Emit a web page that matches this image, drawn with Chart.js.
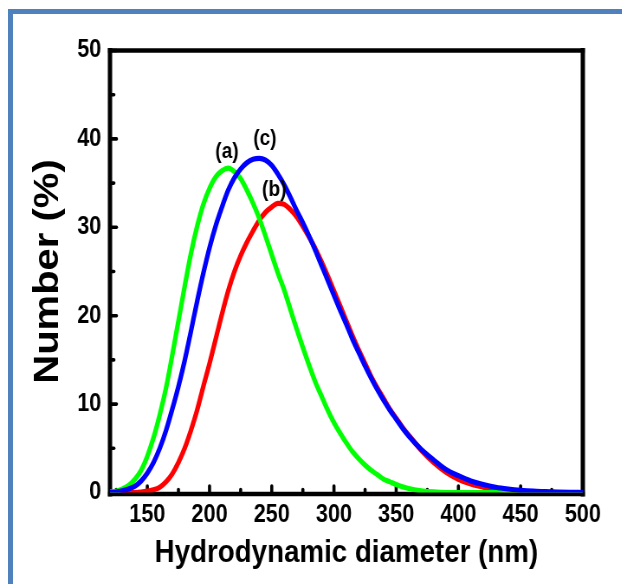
<!DOCTYPE html>
<html>
<head>
<meta charset="utf-8">
<title>Hydrodynamic diameter distribution</title>
<script src="https://cdn.jsdelivr.net/npm/chart.js@4.4.0/dist/chart.umd.min.js"></script>
<style>
    html, body { margin: 0; padding: 0; background: #fff; }
    #page { position: relative; width: 622px; height: 584px; overflow: hidden; background: #fff; }
    #frame {
        position: absolute; left: 8px; top: 9px; right: -10px; bottom: -10px;
        border-left: 5px solid #4f81bd; border-top: 5px solid #4f81bd;
    }
    /* the source figure is squeezed horizontally, so the canvas is too */
    #plot { position: absolute; left: 0; top: 0; width: 718px; height: 584px; transform: scaleX(0.866); transform-origin: 0 0; }
</style>
</head>
<body>
<div id="page">
    <div id="frame"></div>
    <div id="plot"><canvas id="dlsChart" width="718" height="584"></canvas></div>
</div>
<script>
// Hydrodynamic diameter (nm)
const diameters = [
    120, 125, 130, 135, 140, 145, 150, 155, 160, 165, 170, 175, 180, 185, 190, 195,
    200, 205, 210, 215, 220, 225, 230, 235, 240, 245, 250, 255, 260, 265, 270, 275,
    280, 285, 290, 295, 300, 305, 310, 315, 320, 325, 330, 335, 340, 345, 350, 355,
    360, 370, 380, 390, 400, 410, 420, 430, 440, 450, 460, 470, 480, 490, 500
];

// Number (%) for each sample
const numberA = [
    0.05, 0.15, 0.4, 0.8, 1.5, 2.5, 4.1, 6.2, 8.8, 11.8, 15.5, 19.4, 23.3, 27.0, 30.1, 32.6,
    34.4, 35.7, 36.4, 36.7, 36.3, 35.5, 34.2, 32.7, 31.0, 29.0, 26.9, 24.8, 22.9, 20.7, 18.5, 16.4,
    14.4, 12.5, 10.9, 9.3, 7.9, 6.7, 5.6, 4.6, 3.8, 3.1, 2.5, 2.0, 1.5, 1.2, 0.9, 0.65,
    0.45, 0.2, 0.06, 0, 0, 0, 0, 0, 0, 0, 0, 0, 0, 0, 0
];
const numberB = [
    0, 0, 0, 0, 0, 0.05, 0.15, 0.3, 0.6, 1.2, 2.1, 3.4, 5.0, 7.0, 9.3, 12.0,
    14.6, 17.4, 20.2, 22.8, 25.0, 26.8, 28.3, 29.6, 30.8, 31.7, 32.3, 32.7, 32.6, 32.0, 31.2, 30.1,
    28.9, 27.6, 26.1, 24.5, 22.8, 21.1, 19.4, 17.7, 16.1, 14.6, 13.1, 11.8, 10.6, 9.4, 8.4, 7.4,
    6.5, 4.8, 3.4, 2.3, 1.5, 0.95, 0.6, 0.35, 0.2, 0.1, 0.05, 0.02, 0, 0, 0
];
const numberC = [
    0, 0.05, 0.2, 0.4, 0.7, 1.3, 2.2, 3.4, 5.0, 7.0, 9.4, 12.0, 14.9, 18.2, 21.6, 24.8,
    27.7, 30.2, 32.3, 34.2, 35.6, 36.6, 37.3, 37.7, 37.8, 37.6, 37.0, 36.0, 34.8, 33.4, 31.9, 30.5,
    29.0, 27.4, 25.7, 24.0, 22.3, 20.6, 19.0, 17.3, 15.8, 14.3, 12.9, 11.6, 10.4, 9.3, 8.3, 7.3,
    6.4, 4.9, 3.7, 2.6, 1.9, 1.3, 0.9, 0.6, 0.4, 0.25, 0.15, 0.1, 0.05, 0.02, 0
];

const xTicks = [150, 200, 250, 300, 350, 400, 450, 500];
const xMinorTicks = [125, 175, 225, 275, 325, 375, 425, 475];
const yTicks = [0, 10, 20, 30, 40, 50];
const yMinorTicks = [5, 15, 25, 35, 45];

// curve labels, anchored in data units
const peakLabels = ['(a)', '(b)', '(c)'];
const peakLabelX = [214, 252, 244.5];
const peakLabelY = [38.5, 34.2, 40];

const FONT = 'Arial, "Liberation Sans", sans-serif';

function toPoints(values) {
    return diameters.map((d, i) => ({ x: d, y: values[i] }));
}

// black box with inward ticks, drawn under the curves
const frameAndTicks = {
    id: 'frameAndTicks',
    beforeDatasetsDraw(chart) {
        const { ctx, chartArea: area, scales: { x, y } } = chart;
        const bottom = area.bottom + 1.5;
        ctx.save();
        ctx.strokeStyle = '#000';
        ctx.lineCap = 'round';

        ctx.lineWidth = 3.6;
        xTicks.forEach(v => tick(ctx, x.getPixelForValue(v), bottom, 0, -8));
        xMinorTicks.forEach(v => tick(ctx, x.getPixelForValue(v), bottom, 0, -4.5));
        yTicks.forEach(v => tick(ctx, area.left, y.getPixelForValue(v), 7.5, 0));
        yMinorTicks.forEach(v => tick(ctx, area.left, y.getPixelForValue(v), 4.5, 0));

        ctx.lineCap = 'square';
        ctx.lineWidth = 4.5;
        line(ctx, area.left, area.top, area.right, area.top);
        line(ctx, area.left, bottom, area.right, bottom);
        ctx.lineWidth = 5;
        line(ctx, area.left, area.top, area.left, bottom);
        line(ctx, area.right, area.top, area.right, bottom);
        ctx.restore();
    }
};

function tick(ctx, px, py, dx, dy) {
    line(ctx, px, py, px + dx, py + dy);
}

function line(ctx, x1, y1, x2, y2) {
    ctx.beginPath();
    ctx.moveTo(x1, y1);
    ctx.lineTo(x2, y2);
    ctx.stroke();
}

const peakText = {
    id: 'peakText',
    afterDatasetsDraw(chart) {
        const { ctx, scales: { x, y } } = chart;
        ctx.save();
        ctx.fillStyle = '#000';
        ctx.font = 'bold 22px ' + FONT;
        ctx.textAlign = 'center';
        ctx.textBaseline = 'middle';
        peakLabels.forEach((text, i) => {
            ctx.fillText(text, x.getPixelForValue(peakLabelX[i]), y.getPixelForValue(peakLabelY[i]));
        });
        ctx.restore();
    }
};

document.addEventListener('DOMContentLoaded', () => {
    const ctx = document.getElementById('dlsChart').getContext('2d');
    new Chart(ctx, {
        type: 'line',
        data: {
            datasets: [
                { label: '(c)', data: toPoints(numberC), borderColor: '#0000ff', order: 0 },
                { label: '(a)', data: toPoints(numberA), borderColor: '#00ff00', order: 1 },
                { label: '(b)', data: toPoints(numberB), borderColor: '#ff0000', order: 2 }
            ]
        },
        options: {
            responsive: false,
            animation: false,
            layout: { padding: { left: 0, top: 50.5, right: 45, bottom: 0 } },
            elements: {
                point: { radius: 0 },
                line: { borderWidth: 5.2, cubicInterpolationMode: 'monotone', fill: false }
            },
            plugins: {
                legend: { display: false },
                tooltip: { enabled: false }
            },
            scales: {
                x: {
                    type: 'linear',
                    min: 120,
                    max: 500,
                    afterBuildTicks: scale => { scale.ticks = xTicks.map(v => ({ value: v })); },
                    afterFit: scale => { scale.height = 91.5; },
                    grid: { display: false, drawTicks: false },
                    border: { display: false },
                    ticks: {
                        color: '#000',
                        padding: 8,
                        maxRotation: 0,
                        autoSkip: false,
                        font: { family: FONT, size: 25, weight: 'bold' }
                    },
                    title: {
                        display: true,
                        text: 'Hydrodynamic diameter (nm)',
                        color: '#000',
                        padding: { top: 0, bottom: 12 },
                        font: { family: FONT, size: 32, weight: 'bold' }
                    }
                },
                y: {
                    min: 0,
                    max: 50,
                    afterBuildTicks: scale => { scale.ticks = yTicks.map(v => ({ value: v })); },
                    afterFit: scale => { scale.width = 127; },
                    grid: { display: false, drawTicks: false },
                    border: { display: false },
                    ticks: {
                        color: '#000',
                        padding: 10,
                        font: { family: FONT, size: 25, weight: 'bold' }
                    },
                    title: {
                        display: true,
                        text: 'Number (%)',
                        color: '#000',
                        padding: { top: 32, bottom: 0 },
                        font: { family: FONT, size: 40, weight: 'bold' }
                    }
                }
            }
        },
        plugins: [frameAndTicks, peakText]
    });
});
</script>
</body>
</html>
